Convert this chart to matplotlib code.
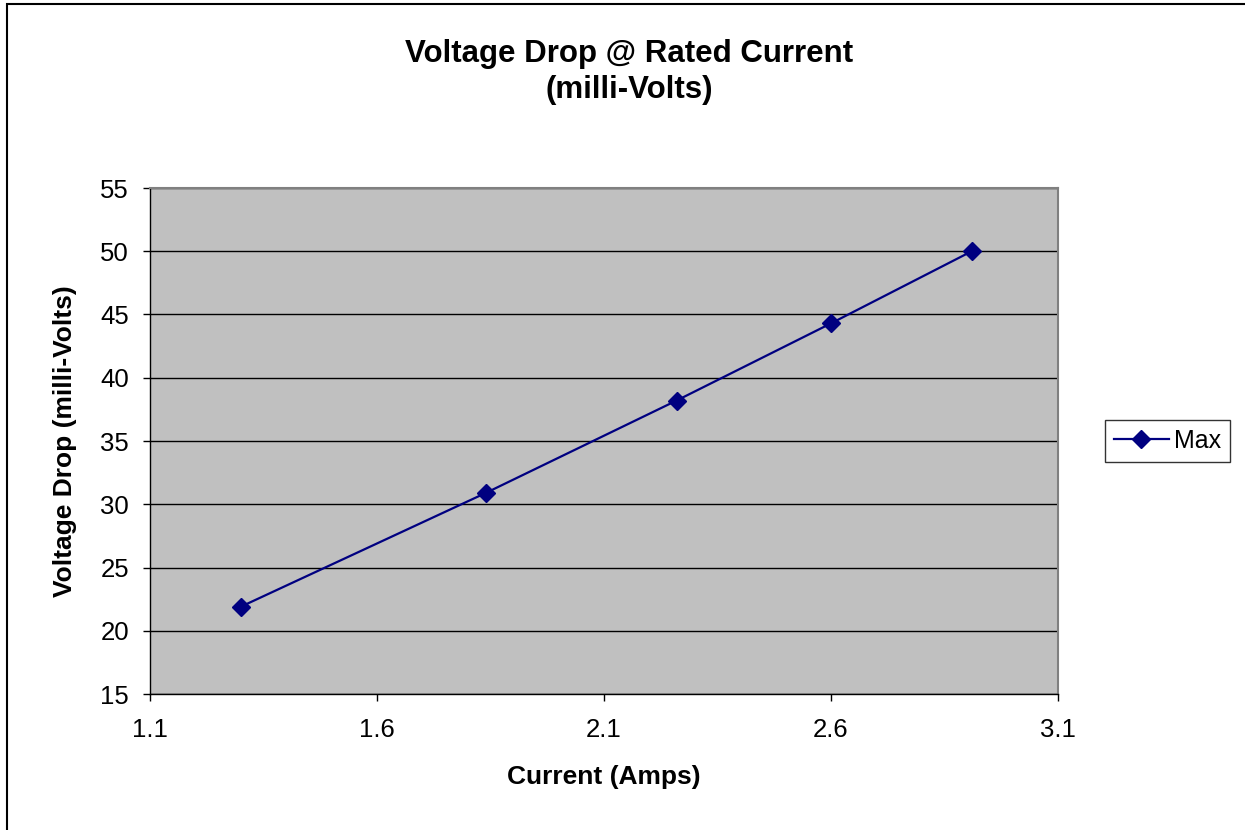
import matplotlib
matplotlib.use('Agg')
import matplotlib.pyplot as plt
from matplotlib.patches import Rectangle

plt.rcParams['font.family'] = ['Liberation Sans', 'DejaVu Sans']

current = [1.30, 1.84, 2.26, 2.60, 2.91]
vdrop = [21.9, 30.9, 38.2, 44.3, 50.0]
x_ticks = [1.1, 1.6, 2.1, 2.6, 3.1]
y_ticks = [15, 20, 25, 30, 35, 40, 45, 50, 55]

fig = plt.figure(figsize=(12.45, 8.3), dpi=100)
# outer chart border (right and bottom edges cut off in the original)
fig.patches.append(Rectangle((7 / 1245, -0.1), 1.2, 1 - 4 / 830 + 0.1,
                             transform=fig.transFigure, fill=False,
                             edgecolor='black', linewidth=1.5))

ax = fig.add_axes([150 / 1245, 1 - 694 / 830, 908 / 1245, 506 / 830])
ax.set_facecolor('#C0C0C0')
ax.plot(current, vdrop, color='#000080', marker='D', markersize=9.5,
        linewidth=1.6, label='Max')

ax.set_xlim(1.1, 3.1)
ax.set_ylim(15, 55)
ax.set_xticks(x_ticks)
ax.set_yticks(y_ticks)
ax.set_xticklabels([str(v) for v in x_ticks])
ax.yaxis.grid(True, color='black', linewidth=1)
ax.set_axisbelow(True)
ax.tick_params(axis='both', direction='out', length=5, width=1, labelsize=18.5)
ax.tick_params(axis='x', pad=12)
ax.tick_params(axis='y', pad=10)

for s in ['top', 'right']:
    ax.spines[s].set_color('#808080')
    ax.spines[s].set_linewidth(1.5)
for s in ['left', 'bottom']:
    ax.spines[s].set_color('black')
    ax.spines[s].set_linewidth(1)

ax.set_xlabel('Current (Amps)', fontsize=19, fontweight='bold', labelpad=17)
ax.set_ylabel('Voltage Drop (milli-Volts)', fontsize=19, fontweight='bold', labelpad=17)

fig.text(629 / 1245, 1 - 72 / 830, 'Voltage Drop @ Rated Current\n(milli-Volts)',
         ha='center', va='center', fontsize=22.5, fontweight='bold', linespacing=1.3)

leg = ax.legend(loc='center left', bbox_to_anchor=(1.052, 0.5), fontsize=18,
                frameon=True, fancybox=False, edgecolor='black',
                handlelength=2.2, handletextpad=0.2, borderpad=0.35,
                borderaxespad=0)
leg.get_frame().set_linewidth(1)

plt.savefig('out.png', dpi=100)
